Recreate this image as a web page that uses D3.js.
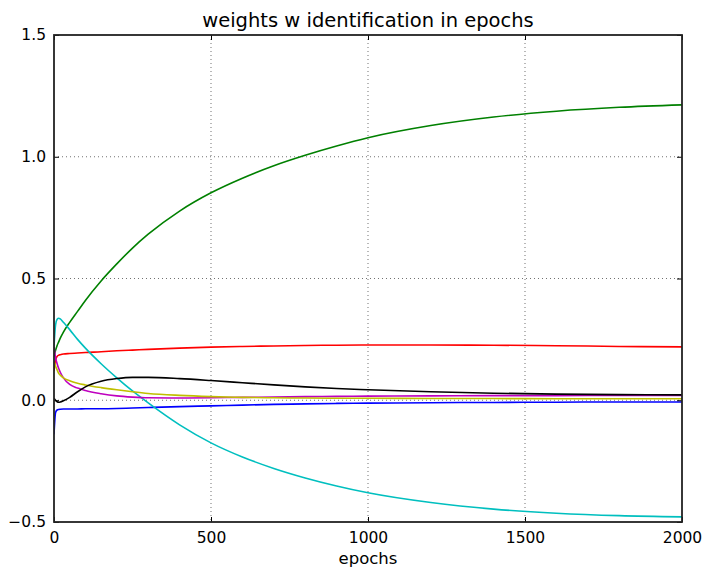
<!DOCTYPE html>
<html>
<head>
<meta charset="utf-8">
<script src="https://cdn.jsdelivr.net/npm/d3@7/dist/d3.min.js"></script>
<style>
  html, body { margin: 0; padding: 0; background: #fff; }
  svg { display: block; }
  text { font-family: "DejaVu Sans", sans-serif; fill: #000; }
</style>
</head>
<body>
<svg id="chart" width="703" height="570"></svg>
<script>
// Training epochs at which the weights were sampled
const epochs = [0, 5, 10, 15, 20, 30, 50, 75, 100, 150, 200, 250, 300, 400, 500,
                600, 700, 800, 900, 1000, 1200, 1400, 1600, 1800, 2000];

// Weight trajectories, one array per weight
const wBlue    = [-0.14, -0.05, -0.04, -0.038, -0.037, -0.036, -0.036, -0.036, -0.035, -0.035, -0.034, -0.032, -0.030, -0.026, -0.023,
                  -0.020, -0.017, -0.015, -0.013, -0.012, -0.010, -0.009, -0.008, -0.007, -0.007];
const wGreen   = [0.18, 0.205, 0.225, 0.24, 0.255, 0.28, 0.32, 0.365, 0.41, 0.49, 0.56, 0.625, 0.682, 0.777, 0.852,
                  0.912, 0.963, 1.006, 1.044, 1.078, 1.128, 1.163, 1.187, 1.203, 1.213];
const wRed     = [0.12, 0.165, 0.18, 0.185, 0.187, 0.19, 0.192, 0.194, 0.196, 0.199, 0.203, 0.206, 0.209, 0.214, 0.218,
                  0.221, 0.223, 0.225, 0.226, 0.227, 0.227, 0.226, 0.224, 0.221, 0.219];
const wCyan    = [0.22, 0.31, 0.333, 0.337, 0.334, 0.32, 0.29, 0.25, 0.214, 0.15, 0.092, 0.038, -0.011, -0.101, -0.175,
                  -0.233, -0.28, -0.319, -0.352, -0.38, -0.42, -0.447, -0.464, -0.474, -0.479];
const wMagenta = [0.22, 0.175, 0.15, 0.13, 0.115, 0.092, 0.065, 0.05, 0.04, 0.027, 0.018, 0.013, 0.010, 0.009, 0.010,
                  0.012, 0.013, 0.015, 0.016, 0.017, 0.018, 0.019, 0.019, 0.020, 0.020];
const wYellow  = [0.16, 0.14, 0.125, 0.11, 0.103, 0.092, 0.08, 0.07, 0.063, 0.052, 0.043, 0.035, 0.028, 0.020, 0.015,
                  0.012, 0.010, 0.009, 0.008, 0.008, 0.007, 0.007, 0.006, 0.006, 0.006];
const wBlack   = [0.008, 0.0, -0.006, -0.008, -0.007, -0.002, 0.012, 0.035, 0.055, 0.078, 0.089, 0.094, 0.094, 0.089, 0.081,
                  0.072, 0.063, 0.055, 0.048, 0.043, 0.035, 0.029, 0.025, 0.023, 0.022];

const seriesList = [
  { values: wBlue,    color: "#0000ff" },
  { values: wGreen,   color: "#008000" },
  { values: wRed,     color: "#ff0000" },
  { values: wCyan,    color: "#00bfbf" },
  { values: wMagenta, color: "#bf00bf" },
  { values: wYellow,  color: "#bfbf00" },
  { values: wBlack,   color: "#000000" }
];

const xTicks = [0, 500, 1000, 1500, 2000];
const yTicks = [-0.5, 0.0, 0.5, 1.0, 1.5];

const titleText = "weights w identification in epochs";
const xLabelText = "epochs";

const margin = { left: 54, right: 21, top: 35, bottom: 48 };
const W = 703, H = 570;
const plotW = W - margin.left - margin.right;
const plotH = H - margin.top - margin.bottom;

const svg = d3.select("#chart");
const g = svg.append("g").attr("transform", `translate(${margin.left},${margin.top})`);

const x = d3.scaleLinear().domain([0, 2000]).range([0, plotW]);
const y = d3.scaleLinear().domain([-0.5, 1.5]).range([plotH, 0]);

// dotted grid
g.append("g").selectAll("line").data(xTicks.slice(1, -1)).join("line")
  .attr("x1", d => x(d)).attr("x2", d => x(d))
  .attr("y1", 0).attr("y2", plotH)
  .attr("stroke", "#000").attr("stroke-opacity", 0.7)
  .attr("stroke-width", 0.8).attr("stroke-dasharray", "1,3");
g.append("g").selectAll("line").data(yTicks.slice(1, -1)).join("line")
  .attr("y1", d => y(d)).attr("y2", d => y(d))
  .attr("x1", 0).attr("x2", plotW)
  .attr("stroke", "#000").attr("stroke-opacity", 0.7)
  .attr("stroke-width", 0.8).attr("stroke-dasharray", "1,3");

// weight curves
svg.append("defs").append("clipPath").attr("id", "plotClip")
  .append("rect").attr("width", plotW).attr("height", plotH);

const line = d3.line()
  .x((d, i) => x(epochs[i]))
  .y(d => y(d))
  .curve(d3.curveMonotoneX);

g.append("g").attr("clip-path", "url(#plotClip)")
  .selectAll("path").data(seriesList).join("path")
  .attr("d", d => line(d.values))
  .attr("fill", "none")
  .attr("stroke", d => d.color)
  .attr("stroke-width", 1.6)
  .attr("stroke-linejoin", "round");

// axes with inward ticks on all four sides
const fmtY = d => d3.format(".1f")(d).replace("-", "\u2212");
const bottomAxis = d3.axisBottom(x).tickValues(xTicks).tickSize(-5).tickPadding(10).tickFormat(d3.format("d"));
const topAxis = d3.axisTop(x).tickValues(xTicks).tickSize(-5).tickFormat("");
const leftAxis = d3.axisLeft(y).tickValues(yTicks).tickSize(-5).tickPadding(8).tickFormat(fmtY);
const rightAxis = d3.axisRight(y).tickValues(yTicks).tickSize(-5).tickFormat("");

function styleAxis(sel) {
  sel.select(".domain").remove();
  sel.selectAll(".tick line").attr("stroke", "#000").attr("stroke-width", 1);
  sel.selectAll(".tick text").attr("font-size", 15.5).attr("font-family", "DejaVu Sans, sans-serif").attr("fill", "#000");
}

g.append("g").attr("transform", `translate(0,${plotH})`).call(bottomAxis).call(styleAxis);
g.append("g").call(topAxis).call(styleAxis);
g.append("g").call(leftAxis).call(styleAxis);
g.append("g").attr("transform", `translate(${plotW},0)`).call(rightAxis).call(styleAxis);

// frame
g.append("rect").attr("width", plotW).attr("height", plotH)
  .attr("fill", "none").attr("stroke", "#222").attr("stroke-width", 1.8);

// title and axis label
svg.append("text").attr("x", margin.left + plotW / 2).attr("y", 27)
  .attr("text-anchor", "middle").attr("font-size", 19.5).text(titleText);
svg.append("text").attr("x", margin.left + plotW / 2).attr("y", 564)
  .attr("text-anchor", "middle").attr("font-size", 16.5).text(xLabelText);
</script>
</body>
</html>
